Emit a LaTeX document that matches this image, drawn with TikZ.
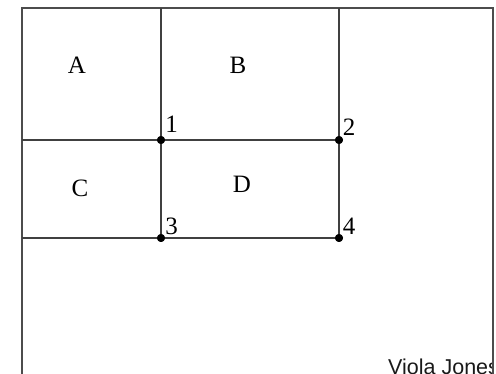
\documentclass[tikz,border=0pt]{standalone}
\usepackage{fontspec}
\setmainfont{Liberation Serif}
\setsansfont{Liberation Sans}
\begin{document}
\begin{tikzpicture}[x=1pt,y=1pt,
  frame/.style={draw=black!70,line width=1.3pt},
  grid/.style={draw=black!75,line width=1.3pt},
  dotnode/.style={circle,fill=black,inner sep=0pt,minimum size=8pt},
  region/.style={font=\fontsize{25}{25}\selectfont},
  corner/.style={font=\fontsize{25}{25}\selectfont,inner sep=0pt}]
\useasboundingbox (0,0) rectangle (496,374);
\clip (0,0) rectangle (496,374);
% frame corners
\coordinate (tl) at (22,366);
\coordinate (tr) at (493,366);
\coordinate (bl) at (22,-2);
\coordinate (br) at (493,-2);
\coordinate (t1) at (161,366);
\coordinate (t2) at (339,366);
\coordinate (l1) at (22,234);
\coordinate (l3) at (22,136);
% points
\node[dotnode] (p1) at (161,234) {};
\node[dotnode] (p2) at (339,234) {};
\node[dotnode] (p3) at (161,136) {};
\node[dotnode] (p4) at (339,136) {};
% text clipped at frame
\begin{scope}
\clip (0,0) rectangle (493,374);
\node[anchor=base west,inner sep=0pt,font=\sffamily\fontsize{21.5}{21.5}\selectfont,text=black!90] (vj) at (388,-1) {Viola Jones};
\end{scope}
% frame
\draw[frame] (bl) -- (tl) -- (tr) -- (br);
% grid lines
\draw[grid] (t1) -- (p1.center) -- (p3.center);
\draw[grid] (t2) -- (p2.center) -- (p4.center);
\draw[grid] (l1) -- (p1.center) -- (p2.center);
\draw[grid] (l3) -- (p3.center) -- (p4.center);
% redraw dots on top
\fill (p1) circle (4); \fill (p2) circle (4); \fill (p3) circle (4); \fill (p4) circle (4);
% region labels
\node[region] (A) at (77,309) {A};
\node[region] (B) at (238,309) {B};
\node[region] (C) at (80,186) {C};
\node[region] (D) at (242,190) {D};
% corner labels
\node[corner] (n1) at (171.5,250) {1};
\node[corner] (n2) at (349,246.5) {2};
\node[corner] (n3) at (171.5,148) {3};
\node[corner] (n4) at (349,148) {4};
\end{tikzpicture}
\end{document}
